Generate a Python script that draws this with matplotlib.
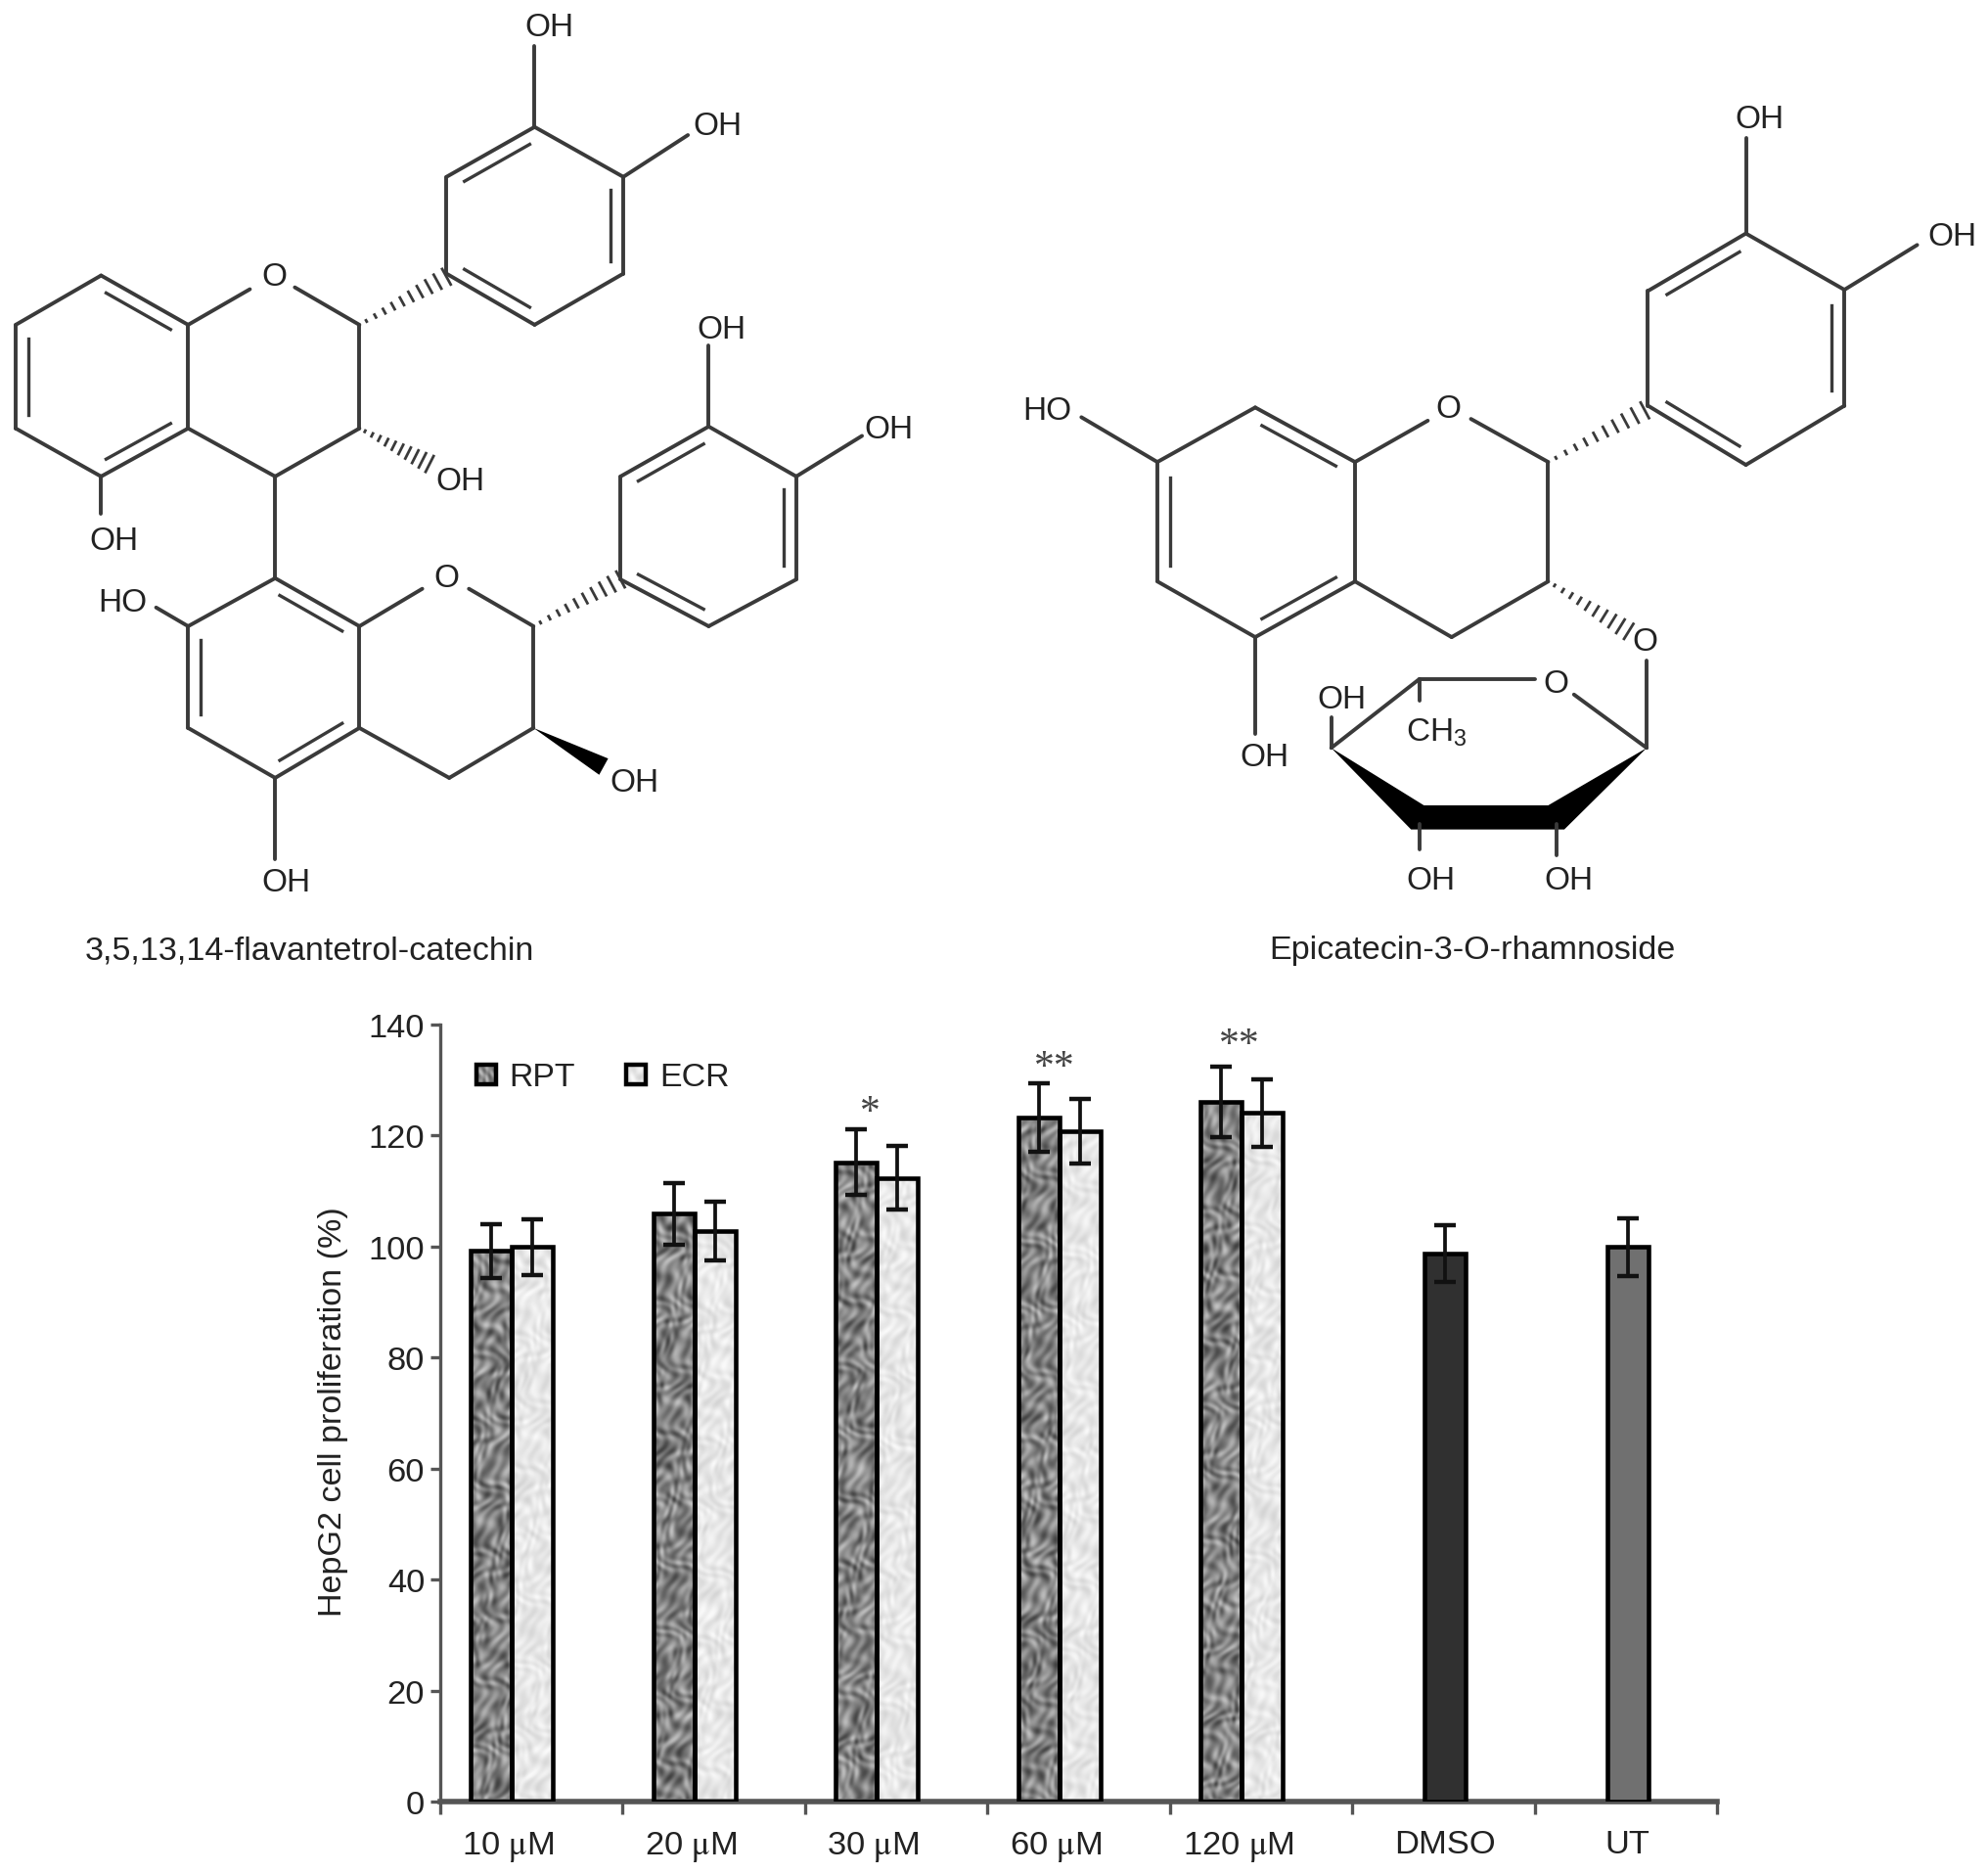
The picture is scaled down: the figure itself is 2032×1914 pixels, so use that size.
import numpy as np
import matplotlib
matplotlib.use('Agg')
import matplotlib.pyplot as plt
from matplotlib.patches import Polygon, Rectangle

plt.rcParams['font.family'] = ['Liberation Sans', 'DejaVu Sans']
plt.rcParams['mathtext.fontset'] = 'stix'
plt.rcParams['mathtext.default'] = 'regular'

# bar chart data
doses = ['10 $\\mathrm{\\mu}$M', '20 $\\mathrm{\\mu}$M', '30 $\\mathrm{\\mu}$M', '60 $\\mathrm{\\mu}$M', '120 $\\mathrm{\\mu}$M']
controls = ['DMSO', 'UT']
rpt = [99.2, 105.9, 115.2, 123.2, 126.1]
rpt_err = [4.9, 5.5, 5.9, 6.2, 6.4]
ecr = [99.9, 102.8, 112.4, 120.8, 124.1]
ecr_err = [5.0, 5.3, 5.8, 5.8, 6.1]
ctrl = [98.7, 99.9]
ctrl_err = [5.1, 5.2]
ctrl_colors = ['#303030', '#707070']
yticks = [0, 20, 40, 60, 80, 100, 120, 140]
sig_marks = ['*', '**', '**']
sig_x = [2.357, 3.37, 4.384]
sig_y = [124.1, 132.2, 136.4]

# structure 1, coordinates
a_ring = [(180, 443), (335, 522), (335, 688), (180, 765), (28, 688), (28, 522)]
b_ring = [(795, 285), (952, 205), (1110, 285), (1110, 440), (952, 522), (795, 440)]
d_ring = [(490, 928), (640, 1005), (640, 1168), (490, 1248), (335, 1168), (335, 1005)]
e_ring = [(1105, 765), (1262, 685), (1418, 765), (1418, 930), (1262, 1005), (1105, 930)]
s1_bonds = [
    [(335, 522), (445, 465)], [(525, 462), (640, 522)], [(640, 522), (640, 688)],
    [(640, 688), (490, 765)], [(490, 765), (335, 688)], [(490, 765), (490, 928)],
    [(952, 205), (952, 75)], [(1110, 285), (1225, 218)], [(180, 765), (180, 825)],
    [(640, 1005), (752, 945)], [(835, 945), (950, 1005)], [(950, 1005), (950, 1168)],
    [(950, 1168), (800, 1248)], [(800, 1248), (640, 1168)],
    [(1262, 685), (1262, 555)], [(1418, 765), (1535, 700)],
    [(335, 1005), (278, 975)], [(490, 1248), (490, 1378)],
]
s1_hash = [[(640, 522), (795, 445)], [(640, 688), (765, 745)], [(950, 1005), (1105, 930)]]
s1_wedge = [[(950, 1168), (1075, 1230)]]
s1_labels = [('OH', 978, 40), ('OH', 1278, 198), ('O', 488, 440), ('OH', 820, 767), ('OH', 203, 863),
             ('O', 795, 922), ('OH', 1285, 525), ('OH', 1582, 685), ('HO', 218, 962),
             ('OH', 1130, 1250), ('OH', 510, 1410)]

# structure 2, coordinates
f_ring = [(430, 575), (585, 670), (585, 878), (430, 975), (278, 878), (278, 670)]
g_ring = [(1040, 372), (1192, 272), (1345, 370), (1345, 572), (1192, 675), (1040, 572)]
s2_bonds = [
    [(585, 670), (698, 598)], [(765, 595), (885, 670)], [(885, 670), (885, 878)],
    [(885, 878), (735, 975)], [(735, 975), (585, 878)],
    [(1192, 272), (1192, 105)], [(1345, 370), (1458, 292)], [(278, 670), (160, 592)],
    [(430, 975), (430, 1143)], [(1038, 1015), (1038, 1168)],
    [(1038, 1168), (925, 1075)], [(865, 1048), (685, 1048)], [(685, 1048), (548, 1168)],
    [(685, 1048), (685, 1085)], [(548, 1168), (548, 1115)],
    [(685, 1300), (685, 1345)], [(898, 1300), (898, 1355)],
]
s2_hash = [[(885, 670), (1035, 580)], [(885, 878), (1010, 965)]]
s2_solid = [(548, 1168), (672, 1310), (910, 1310), (1038, 1168), (885, 1268), (692, 1268)]
s2_labels = [('OH', 1213, 68), ('OH', 1512, 272), ('HO', 107, 575), ('O', 730, 572), ('OH', 445, 1178),
             ('O', 1035, 978), ('O', 897, 1050), ('OH', 565, 1078), ('CH$_3$', 712, 1135),
             ('OH', 703, 1393), ('OH', 917, 1393)]

LINE = '#3a3a3a'
TEXT = '#222222'
TEXT_DROP = 3  # va=center sits a little high compared with the reference


def from_crop1(pts):
    return np.array(pts, dtype=float) * [900 / 1568, 1000 / 1568]


def from_crop2(pts):
    return np.array(pts, dtype=float) * [1032 / 1568, 920 / 1568] + [1000, 80]


def draw_bond(over, p, q):
    over.plot([p[0], q[0]], [p[1], q[1]], color=LINE, lw=2.8, solid_capstyle='round')


# ring outline plus the inner strokes of the double bonds
def draw_ring(over, atoms, doubles):
    center = atoms.mean(axis=0)
    for i in range(6):
        p, q = atoms[i], atoms[(i + 1) % 6]
        draw_bond(over, p, q)
        if i in doubles:
            mid = (p + q) / 2
            normal = center - mid
            normal = normal / np.linalg.norm(normal)
            p2 = p + (q - p) * 0.13 + normal * 13
            q2 = q - (q - p) * 0.13 + normal * 13
            over.plot([p2[0], q2[0]], [p2[1], q2[1]], color=LINE, lw=2.4)


def draw_hash(over, p, q, n=10, wide=18):
    d = q - p
    normal = np.array([-d[1], d[0]]) / np.linalg.norm(d)
    for t in np.linspace(0.08, 1, n):
        half = wide / 2 * t
        c = p + d * t
        over.plot([c[0] - normal[0] * half, c[0] + normal[0] * half],
                  [c[1] - normal[1] * half, c[1] + normal[1] * half], color=LINE, lw=2.0)


def draw_wedge(over, p, q, wide=19):
    d = q - p
    normal = np.array([-d[1], d[0]]) / np.linalg.norm(d)
    over.add_patch(Polygon([p, q + normal * wide / 2, q - normal * wide / 2], closed=True, color='black', lw=0))


# mottled grey fill like the scanned pattern of the bars
def mottle(w, h, phase, lo, hi):
    yy, xx = np.mgrid[0:h, 0:w]
    warp_x = 9 * np.sin(yy / 11 + phase) + 5 * np.sin(yy / 5.3 + 2.3 * phase)
    warp_y = 9 * np.sin(xx / 7 + yy / 29 + 1.4 * phase) + 6 * np.sin(yy / 13 - 0.7 * phase)
    z = np.sin((xx + warp_x) / 3.3 + phase) * np.sin((yy + warp_y) / 5.1 + 1.7 * phase)
    z = z + 0.5 * np.sin((xx - warp_y) / 2.3 + 0.4 * phase) * np.sin((yy + warp_x) / 9.7 + 3 * phase)
    z = (z - z.min()) / (z.max() - z.min())
    return lo + (hi - lo) * z


fig = plt.figure(figsize=(20.32, 19.15), dpi=100, facecolor='white')

# overlay in picture pixels for the two structures
over = fig.add_axes([0, 0, 1, 1])
over.set_xlim(0, 2032)
over.set_ylim(1915, 0)
over.axis('off')

for atoms, doubles in [(a_ring, [0, 2, 4]), (b_ring, [0, 2, 4]), (d_ring, [0, 2, 4]), (e_ring, [0, 2, 4])]:
    draw_ring(over, from_crop1(atoms), doubles)
for bond in s1_bonds:
    p, q = from_crop1(bond)
    draw_bond(over, p, q)
for bond in s1_hash:
    p, q = from_crop1(bond)
    draw_hash(over, p, q)
for bond in s1_wedge:
    p, q = from_crop1(bond)
    draw_wedge(over, p, q)
for name, x, y in s1_labels:
    px, py = from_crop1([(x, y)])[0]
    over.text(px, py + TEXT_DROP, name, ha='center', va='center', fontsize=24, color=TEXT)

for atoms, doubles in [(f_ring, [0, 2, 4]), (g_ring, [0, 2, 4])]:
    draw_ring(over, from_crop2(atoms), doubles)
for bond in s2_bonds:
    p, q = from_crop2(bond)
    draw_bond(over, p, q)
for bond in s2_hash:
    p, q = from_crop2(bond)
    draw_hash(over, p, q)
over.add_patch(Polygon(from_crop2(s2_solid), closed=True, color='black', lw=0))
for name, x, y in s2_labels:
    px, py = from_crop2([(x, y)])[0]
    over.text(px, py + TEXT_DROP, name, ha='center', va='center', fontsize=24, color=TEXT)

over.text(316, 969 + TEXT_DROP, '3,5,13,14-flavantetrol-catechin', ha='center', va='center', fontsize=24.6, color=TEXT)
over.text(1505, 969 + TEXT_DROP, 'Epicatecin-3-O-rhamnoside', ha='center', va='center', fontsize=24.6, color=TEXT)

# legend swatches and labels
over.imshow(mottle(24, 24, 0.7, 70, 190), extent=[487, 507, 1109, 1089], cmap='gray', vmin=0, vmax=255, aspect='auto', interpolation='bilinear')
over.imshow(mottle(24, 24, 1.9, 212, 250), extent=[640, 660, 1109, 1089], cmap='gray', vmin=0, vmax=255, aspect='auto', interpolation='bilinear')
over.add_patch(Rectangle((487, 1089), 20, 20, fill=False, edgecolor='black', lw=3.2))
over.add_patch(Rectangle((640, 1089), 20, 20, fill=False, edgecolor='black', lw=3.2))
over.text(520, 1102, 'RPT', ha='left', va='center', fontsize=24.4, color=TEXT)
over.text(674, 1102, 'ECR', ha='left', va='center', fontsize=24.4, color=TEXT)
over.set_xlim(0, 2032)
over.set_ylim(1915, 0)

# the bar chart
ax = fig.add_axes([449.5 / 2032, 1 - 1842 / 1915, 1305.5 / 2032, 794 / 1915])
ax.patch.set_alpha(0)

width = 0.225
centers = np.arange(len(doses)) + 0.507
ctrl_centers = np.arange(len(controls)) + len(doses) + 0.51
rpt_x = centers - width
ecr_x = centers.copy()

rpt_bars = ax.bar(rpt_x, rpt, width, fill=False, edgecolor='black', linewidth=3.3, zorder=3)
ecr_bars = ax.bar(ecr_x, ecr, width, fill=False, edgecolor='black', linewidth=3.3, zorder=3)
ax.bar(ctrl_centers, ctrl, width, color=ctrl_colors, edgecolor='black', linewidth=3.3, zorder=3)

for i, bar in enumerate(rpt_bars):
    tex = mottle(42, int(bar.get_height() * 5.67), 0.7 + i * 1.3, 65, 195)
    ax.imshow(tex, extent=[bar.get_x(), bar.get_x() + width, 0, bar.get_height()], cmap='gray', vmin=0, vmax=255,
              aspect='auto', interpolation='bicubic', zorder=2)
for i, bar in enumerate(ecr_bars):
    tex = mottle(42, int(bar.get_height() * 5.67), 1.9 + i * 0.9, 212, 250)
    ax.imshow(tex, extent=[bar.get_x(), bar.get_x() + width, 0, bar.get_height()], cmap='gray', vmin=0, vmax=255,
              aspect='auto', interpolation='bicubic', zorder=2)

for xs, ys, errs in [(rpt_x, rpt, rpt_err), (ecr_x, ecr, ecr_err), (ctrl_centers, ctrl, ctrl_err)]:
    ax.errorbar(xs, ys, yerr=errs, fmt='none', ecolor='#111111', elinewidth=2.7, capsize=8, capthick=3.2, zorder=4)

for mark, x, y in zip(sig_marks, sig_x, sig_y):
    ax.text(x, y, mark, ha='center', va='center', fontsize=30, color='#444444', family='Liberation Serif')

ax.set_xlim(0, 7)
ax.set_ylim(0, 140)
ax.set_yticks(yticks)
ax.set_xticks(np.arange(8))
ax.set_xticklabels([])
label_pos = list(centers - width / 2 - 0.02) + list(ctrl_centers)
ax.set_xticks(label_pos, minor=True)
ax.set_xticklabels(doses + controls, minor=True)
ax.tick_params(axis='x', which='major', length=9, width=2.4, color='#555555')
ax.tick_params(axis='x', which='minor', length=0, pad=20, labelsize=24.8, labelcolor=TEXT)
ax.tick_params(axis='y', length=7, width=2.4, color='#555555', pad=4, labelsize=24.8, labelcolor=TEXT)
ax.spines['top'].set_visible(False)
ax.spines['right'].set_visible(False)
ax.spines['left'].set_color('#555555')
ax.spines['left'].set_linewidth(2.4)
ax.spines['bottom'].set_color('#555555')
ax.spines['bottom'].set_linewidth(4)

over.text(340, 1443, 'HepG2 cell proliferation (%)', rotation=90, ha='center', va='center', fontsize=24.6, color=TEXT)

fig.savefig('out.png', dpi=100)
